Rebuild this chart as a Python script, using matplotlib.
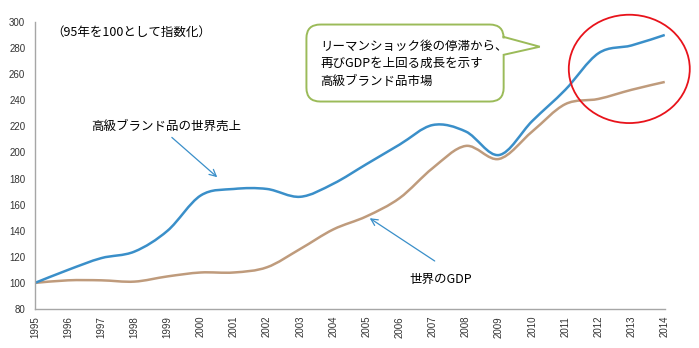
import matplotlib
matplotlib.use("Agg")
import matplotlib.pyplot as plt
from matplotlib.path import Path
from matplotlib.patches import PathPatch, Ellipse

plt.rcParams['font.family'] = ['Noto Sans CJK JP', 'DejaVu Sans']

# -------------------------------
# data (index, 1995 = 100)
# -------------------------------
years = list(range(1995, 2015))
luxury = [100, 110, 119, 124, 140, 167, 172, 172, 166, 176,
          191, 206, 221, 216, 198, 224, 248, 276, 282, 290]
gdp = [100, 102, 102, 101, 105, 108, 108, 112, 126, 141,
       151, 165, 188, 205, 195, 216, 237, 241, 248, 254]

year_labels = [str(y) for y in years]
y_ticks = list(range(80, 301, 20))

label_luxury = "高級ブランド品の世界売上"
label_gdp = "世界のGDP"
note_index = "（95年を100として指数化）"
callout_text = "リーマンショック後の停滞から、\n再びGDPを上回る成長を示す\n高級ブランド品市場"

BLUE = "#3a8fc9"
TAN = "#bf9b7c"
GREEN = "#9bbb59"


def smooth_path(xs, ys):
    # excel style smoothed line: cubic bezier, catmull-rom control points
    verts = [(xs[0], ys[0])]
    codes = [Path.MOVETO]
    n = len(xs)
    for i in range(n - 1):
        x0, y0 = (xs[i - 1], ys[i - 1]) if i > 0 else (xs[i], ys[i])
        x1, y1 = xs[i], ys[i]
        x2, y2 = xs[i + 1], ys[i + 1]
        x3, y3 = (xs[i + 2], ys[i + 2]) if i + 2 < n else (x2, y2)
        c1 = (x1 + (x2 - x0) / 6, y1 + (y2 - y0) / 6)
        c2 = (x2 - (x3 - x1) / 6, y2 - (y3 - y1) / 6)
        verts += [c1, c2, (x2, y2)]
        codes += [Path.CURVE4] * 3
    return Path(verts, codes)


def callout_path(x0, x1, y0, y1, rx, ry, tip, base_hi, base_lo):
    # rounded rectangle with a pointer leaving its right edge
    v = [(x0 + rx, y1), (x1 - rx, y1), (x1, y1), (x1, y1 - ry),
         (x1, base_hi), tip, (x1, base_lo),
         (x1, y0 + ry), (x1, y0), (x1 - rx, y0),
         (x0 + rx, y0), (x0, y0), (x0, y0 + ry),
         (x0, y1 - ry), (x0, y1), (x0 + rx, y1)]
    c = [Path.MOVETO, Path.LINETO, Path.CURVE3, Path.CURVE3,
         Path.LINETO, Path.LINETO, Path.LINETO,
         Path.LINETO, Path.CURVE3, Path.CURVE3,
         Path.LINETO, Path.CURVE3, Path.CURVE3,
         Path.LINETO, Path.CURVE3, Path.CURVE3]
    return Path(v, c)


fig = plt.figure(figsize=(6.99, 3.48), dpi=100)
ax = fig.add_axes([0.050, 0.112, 0.901, 0.825])

ax.add_patch(PathPatch(smooth_path(years, gdp), fill=False, edgecolor=TAN, lw=1.8))
ax.add_patch(PathPatch(smooth_path(years, luxury), fill=False, edgecolor=BLUE, lw=1.8))

ax.set_xlim(1995, 2014)
ax.set_ylim(80, 300)
ax.set_xticks(years)
ax.set_xticklabels(year_labels, rotation=90, fontsize=7, color="#333333",
                   family=['Liberation Sans', 'DejaVu Sans'])
ax.set_yticks(y_ticks)
ax.set_yticklabels([str(v) for v in y_ticks], fontsize=7, color="#333333",
                   family=['Liberation Sans', 'DejaVu Sans'])
ax.tick_params(axis="y", length=0, pad=7)
ax.tick_params(axis="x", length=0, pad=5)
for s in ["top", "right"]:
    ax.spines[s].set_visible(False)
for s in ["left", "bottom"]:
    ax.spines[s].set_color("#a6a6a6")
    ax.spines[s].set_linewidth(1.0)

# texts and arrows
ax.text(1995.5, 292, note_index, fontsize=9, va="center", ha="left")

ax.text(1996.7, 220, label_luxury, fontsize=9, va="center", ha="left")
ax.annotate("", xy=(2000.5, 181), xytext=(1999.13, 211.5),
            arrowprops=dict(arrowstyle="->", color=BLUE, lw=0.9,
                            shrinkA=0, shrinkB=0, mutation_scale=12))
ax.text(2006.3, 103, label_gdp, fontsize=9, va="center", ha="left")
ax.annotate("", xy=(2005.1, 149.6), xytext=(2007.06, 116.8),
            arrowprops=dict(arrowstyle="->", color=BLUE, lw=0.9,
                            shrinkA=0, shrinkB=0, mutation_scale=12))

# callout box with pointer
ax.add_patch(PathPatch(callout_path(2003.19, 2009.14, 239, 298, 0.42, 10.5,
                                    (2010.23, 281), 288.5, 274.8),
                       facecolor="white", edgecolor=GREEN, lw=1.4, zorder=5,
                       clip_on=False))
ax.text(2003.6, 268, callout_text, fontsize=9, va="center", ha="left",
        linespacing=1.45, zorder=6)

# red ellipse around the recent years
ax.add_patch(Ellipse((2012.93, 264), 3.65, 83, fill=False, edgecolor="#e8131b",
                     lw=1.3, clip_on=False, zorder=4))

fig.savefig("out.png", dpi=100)
